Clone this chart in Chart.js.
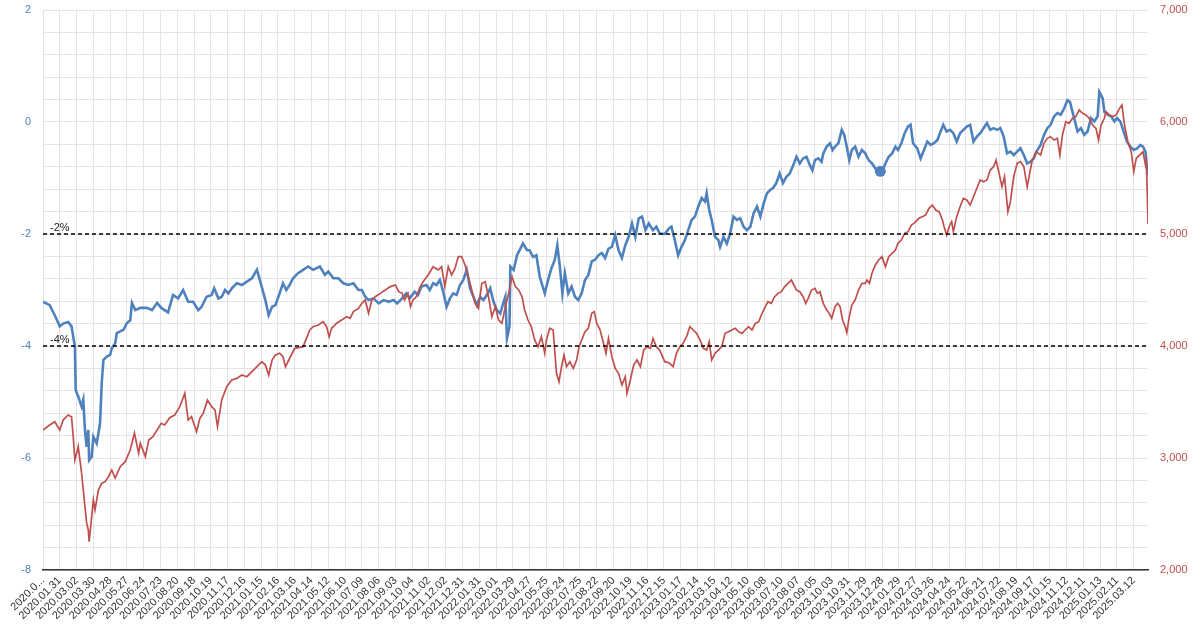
<!DOCTYPE html>
<html>
<head>
<meta charset="utf-8">
<script src="https://cdn.jsdelivr.net/npm/chart.js@4.4.1/dist/chart.umd.min.js"></script>
<style>
 html,body{margin:0;padding:0;background:#fff;}
</style>
</head>
<body>
<canvas id="chart" width="1200" height="629"></canvas>
<script>
// x = trading-day index (label every 20 sessions), y = value
const xTickLabels = ["2020.0...","2020.01.31","2020.03.02","2020.03.30","2020.04.28","2020.05.27","2020.06.24","2020.07.23","2020.08.20","2020.09.18","2020.10.19","2020.11.17","2020.12.16",
 "2021.01.15","2021.02.16","2021.03.16","2021.04.14","2021.05.12","2021.06.10","2021.07.09","2021.08.06","2021.09.03","2021.10.04","2021.11.02","2021.12.02","2021.12.31",
 "2022.01.31","2022.03.01","2022.03.29","2022.04.27","2022.05.25","2022.06.24","2022.07.25","2022.08.22","2022.09.20","2022.10.19","2022.11.16","2022.12.15",
 "2023.01.17","2023.02.14","2023.03.15","2023.04.12","2023.05.10","2023.06.08","2023.07.10","2023.08.07","2023.09.05","2023.10.03","2023.10.31","2023.11.29","2023.12.28",
 "2024.01.29","2024.02.27","2024.03.26","2024.04.24","2024.05.22","2024.06.21","2024.07.22","2024.08.19","2024.09.17","2024.10.15","2024.11.12","2024.12.11",
 "2025.01.13","2025.02.11","2025.03.12"];
const xStep = 20;
const lastIdx = 1317;

const leftTicks = [-8,-6,-4,-2,0,2];
const rightTicks = [2000,3000,4000,5000,6000,7000];

const guideLevels = [-2,-4];
const guideLabels = ["-2%","-4%"];

const markIdx = 998, markVal = -0.88;

const blueSeries = [[0,-3.21],[8,-3.27],[14,-3.45],[20,-3.65],[24,-3.6],[30,-3.57],[34,-3.65],[38,-4.01],[39,-4.79],[42,-4.9],[46,-5.08],[48,-4.96],[50,-5.5],[52,-5.8],[54,-5.5],[55,-6.04],[58,-5.98],[60,-5.62],[64,-5.74],[68,-5.38],[70,-4.66],[72,-4.25],[76,-4.19],[80,-4.16],[82,-4.04],[86,-3.95],[88,-3.77],[92,-3.74],[96,-3.71],[100,-3.59],[104,-3.54],[106,-3.23],[110,-3.36],[116,-3.32],[124,-3.32],[130,-3.36],[136,-3.23],[141,-3.32],[149,-3.4],
 [155,-3.09],[161,-3.15],[167,-3.0],[173,-3.21],[179,-3.21],[185,-3.36],[189,-3.3],[195,-3.12],[201,-3.09],[204,-2.97],[209,-3.15],[213,-3.12],[217,-3.0],[221,-3.06],[225,-2.97],[231,-2.88],[237,-2.91],[243,-2.85],[249,-2.79],[255,-2.64],[259,-2.85],[265,-3.18],[269,-3.45],[273,-3.3],[277,-3.27],[282,-3.06],[286,-2.88],[290,-3.0],[294,-2.91],
 [298,-2.79],[304,-2.7],[310,-2.64],[316,-2.58],[322,-2.64],[330,-2.58],[336,-2.73],[340,-2.67],[346,-2.79],[352,-2.79],[358,-2.88],[364,-2.91],[370,-2.88],[376,-3.0],[380,-3.0],[384,-3.12],[388,-3.18],[394,-3.15],[400,-3.24],[406,-3.18],[412,-3.21],[418,-3.18],[422,-3.24],[428,-3.15],[433,-3.06],[437,-3.15],[443,-3.03],
 [447,-3.09],[451,-2.94],[457,-2.91],[461,-3.0],[465,-2.88],[469,-2.91],[473,-2.82],[477,-3.03],[481,-3.3],[485,-3.15],[489,-3.06],[493,-3.09],[497,-2.91],[501,-2.82],[505,-2.64],[509,-2.97],[513,-3.12],[517,-3.27],[521,-3.12],[525,-3.18],[529,-3.09],[533,-2.97],[537,-3.21],[541,-3.36],[545,-3.42],[549,-3.21],[551,-3.12],[553,-3.86],[556,-3.65],[557,-2.58],[561,-2.64],[565,-2.38],[569,-2.26],[572,-2.17],[577,-2.29],[580,-2.29],[584,-2.41],[588,-2.38],[592,-2.76],
 [598,-3.06],[602,-2.82],[606,-2.61],[610,-2.46],[613,-2.2],[616,-2.58],[619,-3.06],[622,-2.7],[626,-3.06],[630,-2.94],[634,-3.12],[638,-3.18],[642,-3.06],[646,-2.82],[650,-2.73],[654,-2.49],[658,-2.46],[662,-2.38],[666,-2.34],[670,-2.43],[674,-2.26],[678,-2.23],[682,-2.02],[686,-2.29],[690,-2.43],[694,-2.2],[698,-2.05],[702,-1.81],[706,-2.05],[710,-1.72],[714,-1.69],[718,-1.93],[722,-1.81],[727,-1.93],[731,-1.87],[735,-1.99],[741,-2.0],[746,-1.9],
 [749,-1.87],[753,-2.11],[757,-2.38],[761,-2.23],[765,-2.11],[769,-1.93],[773,-1.75],[777,-1.69],[781,-1.51],[785,-1.36],[789,-1.42],[791,-1.27],[794,-1.57],[797,-1.75],[801,-2.05],[805,-2.11],[807,-2.23],[811,-2.05],[815,-2.17],[819,-1.99],[823,-1.69],[827,-1.75],[831,-1.72],[835,-1.87],[839,-1.93],[843,-1.87],[847,-1.63],[851,-1.51],[855,-1.69],[859,-1.45],[863,-1.27],[867,-1.21],[870,-1.18],[874,-1.09],[878,-0.92],[882,-1.09],[886,-0.98],[890,-0.92],[895,-0.74],
 [898,-0.62],[902,-0.74],[906,-0.65],[910,-0.62],[914,-0.77],[917,-0.86],[920,-0.68],[924,-0.65],[928,-0.71],[930,-0.56],[934,-0.44],[938,-0.38],[941,-0.5],[944,-0.44],[948,-0.38],[952,-0.14],[955,-0.23],[958,-0.44],[961,-0.68],[964,-0.5],[968,-0.44],[972,-0.62],[976,-0.5],[980,-0.56],[984,-0.68],[988,-0.74],[992,-0.83],[996,-0.89],[1000,-0.89],[1004,-0.74],[1008,-0.62],[1012,-0.56],[1016,-0.44],[1019,-0.5],[1023,-0.38],[1027,-0.2],[1031,-0.08],[1034,-0.05],[1037,-0.38],
 [1042,-0.47],[1046,-0.65],[1050,-0.5],[1054,-0.35],[1058,-0.41],[1062,-0.38],[1066,-0.32],[1069,-0.2],[1073,-0.05],[1077,-0.17],[1081,-0.14],[1085,-0.2],[1089,-0.35],[1093,-0.2],[1097,-0.14],[1101,-0.08],[1105,-0.05],[1109,-0.35],[1113,-0.26],[1117,-0.2],[1121,-0.11],[1125,-0.02],[1129,-0.14],[1133,-0.11],[1137,-0.14],[1141,-0.11],[1145,-0.26],[1149,-0.56],[1153,-0.53],[1157,-0.59],[1161,-0.53],[1165,-0.47],[1169,-0.59],[1173,-0.74],[1177,-0.71],[1181,-0.65],[1184,-0.53],
 [1189,-0.41],[1193,-0.23],[1197,-0.11],[1201,-0.05],[1205,0.1],[1209,0.16],[1213,0.13],[1217,0.24],[1221,0.39],[1224,0.36],[1227,0.18],[1230,0.01],[1233,-0.17],[1237,-0.11],[1241,-0.23],[1245,-0.17],[1249,0.07],[1253,0.01],[1257,0.1],[1259,0.54],[1263,0.42],[1265,0.18],[1269,0.13],[1273,0.1],[1277,0.01],[1280,0.07],[1284,0.01],[1288,-0.17],[1292,-0.35],[1296,-0.44],[1300,-0.5],[1304,-0.47],[1308,-0.41],[1311,-0.44],[1314,-0.53],[1316,-0.85],[1317,-0.95]];

const redSeries = [[0,3250],[8,3295],[14,3324],[20,3250],[24,3339],[30,3384],[34,3369],[36,3190],[38,2982],[42,3101],[46,2866],[48,2714],[50,2565],[52,2420],[54,2357],[55,2253],[58,2476],[60,2625],[62,2536],[66,2714],[70,2774],[74,2789],[78,2833],[82,2893],[86,2821],[92,2923],[98,2967],[104,3071],[109,3223],[114,3042],[116,3131],[122,3012],[126,3161],[131,3190],[136,3250],[141,3310],[145,3295],[151,3360],
 [157,3384],[163,3458],[169,3577],[173,3339],[177,3369],[183,3235],[187,3354],[191,3399],[196,3518],[201,3458],[205,3429],[208,3280],[213,3518],[219,3637],[225,3696],[231,3711],[237,3741],[243,3726],[249,3771],[255,3815],[261,3860],[265,3830],[269,3741],[273,3875],[277,3920],[282,3935],[286,3904],[289,3815],[293,3875],[300,3979],
 [310,3994],[314,4068],[318,4143],[322,4173],[328,4188],[334,4217],[338,4173],[341,4083],[344,4158],[350,4203],[356,4232],[362,4262],[366,4247],[370,4307],[376,4336],[380,4381],[384,4411],[388,4292],[392,4411],[396,4440],[402,4470],[408,4500],[414,4530],[420,4545],[424,4485],[428,4470],[431,4411],[435,4470],[438,4351],[441,4411],[445,4440],[449,4520],
 [453,4574],[459,4634],[465,4708],[471,4679],[475,4708],[479,4530],[483,4708],[487,4634],[491,4693],[495,4798],[499,4798],[503,4723],[507,4619],[511,4500],[515,4381],[519,4336],[523,4560],[527,4574],[531,4440],[535,4262],[539,4351],[543,4232],[547,4202],[551,4351],[555,4470],[559,4619],[563,4530],[567,4500],[571,4440],[574,4321],[578,4232],[582,4173],[586,4054],[590,3994],[594,4083],[598,3935],
 [600,4054],[604,4158],[608,4143],[612,3756],[615,3681],[618,3815],[621,3920],[624,3815],[628,3860],[632,3800],[636,3875],[639,3994],[642,4054],[646,4128],[650,4158],[654,4292],[657,4307],[660,4202],[664,4143],[668,4024],[671,3935],[674,4068],[678,3904],[682,3800],[686,3756],[690,3652],[694,3726],[696,3577],[700,3696],[704,3830],[708,3875],[712,3815],[716,3964],[720,3994],[724,3979],[727,4068],[731,3994],[735,3964],[741,3860],[746,3850],
 [751,3815],[755,3935],[759,3994],[763,4024],[767,4083],[771,4173],[775,4143],[779,4113],[783,4054],[787,3979],[791,3964],[794,4039],[797,3875],[801,3935],[805,3964],[809,3994],[813,4113],[817,4128],[821,4143],[825,4158],[829,4128],[833,4113],[837,4143],[841,4173],[845,4143],[849,4202],[853,4217],[857,4292],[861,4351],[864,4396],[868,4381],[872,4440],[876,4470],[880,4485],[884,4530],[888,4560],[892,4589],
 [898,4500],[902,4485],[906,4440],[909,4381],[912,4426],[916,4500],[920,4515],[923,4470],[926,4485],[930,4381],[934,4321],[937,4292],[940,4247],[944,4351],[947,4381],[950,4351],[953,4232],[956,4173],[958,4119],[961,4262],[964,4366],[968,4411],[972,4500],[976,4560],[980,4560],[982,4589],[985,4560],[988,4649],[992,4723],[996,4768],[1000,4798],[1004,4708],[1008,4798],[1012,4827],[1016,4857],[1019,4917],[1023,4946],[1027,5006],[1031,5021],[1035,5080],[1038,5095],
 [1044,5140],[1048,5155],[1052,5170],[1056,5229],[1060,5259],[1064,5214],[1068,5199],[1072,5125],[1074,5065],[1077,4991],[1080,5065],[1083,5110],[1085,5021],[1089,5155],[1093,5244],[1097,5318],[1101,5304],[1105,5259],[1109,5333],[1113,5408],[1117,5482],[1121,5467],[1125,5482],[1129,5571],[1133,5601],[1136,5661],[1139,5557],[1143,5423],[1146,5512],[1150,5199],[1153,5289],[1157,5512],[1161,5631],[1165,5646],[1169,5601],[1173,5423],[1176,5542],[1179,5661],[1184,5735],
 [1189,5705],[1193,5810],[1197,5854],[1201,5869],[1205,5839],[1209,5854],[1212,5705],[1215,5884],[1219,6003],[1223,5988],[1227,6033],[1231,6048],[1235,6107],[1239,6078],[1243,6063],[1247,6033],[1251,5973],[1255,5943],[1258,5839],[1261,5973],[1265,6033],[1267,6092],[1271,6063],[1275,6048],[1279,6063],[1283,6122],[1286,6152],[1289,5973],[1293,5824],[1297,5735],[1300,5557],[1303,5676],[1307,5705],[1311,5735],[1314,5616],[1315,5650],[1316,5400],[1317,5090]];

const BLUE = "#4F81BD";
const RED = "#C0504D";
const GRID = "#e4e4e4";

const toPts = arr => arr.map(([x, y]) => ({x, y}));

// -2% / -4% captions above the dashed lines
const guideText = {
 id: "guideText",
 afterDatasetsDraw(chart){
  const {ctx, chartArea, scales} = chart;
  ctx.save();
  ctx.font = "11px Arial";
  ctx.fillStyle = "#222";
  ctx.textBaseline = "bottom";
  guideLevels.forEach((lv, i) => {
   ctx.fillText(guideLabels[i], chartArea.left + 7, scales.y.getPixelForValue(lv) - 1);
  });
  ctx.restore();
 }
};

const guideSets = guideLevels.map(lv => ({
 data: [{x: 0, y: lv}, {x: lastIdx, y: lv}],
 yAxisID: "y", borderColor: "#000", borderWidth: 1.4, borderDash: [4, 3],
 pointRadius: 0, order: 1
}));

// fixed axis boxes so the plot area sits where the original has it
const fitY = w => s => { s.width = w; s.paddingTop = 0; s.paddingBottom = 0; };

new Chart(document.getElementById("chart"), {
 type: "line",
 data: {
  datasets: [
   {type: "scatter", data: [{x: markIdx, y: markVal}], yAxisID: "y", pointRadius: 5.5, pointBackgroundColor: BLUE, pointBorderWidth: 0, order: 0},
   ...guideSets,
   {data: toPts(redSeries), yAxisID: "y2", borderColor: RED, borderWidth: 1.7, pointRadius: 0, order: 2},
   {data: toPts(blueSeries), yAxisID: "y", borderColor: BLUE, borderWidth: 2.6, pointRadius: 0, order: 3}
  ]
 },
 options: {
  responsive: false, animation: false, devicePixelRatio: 1,
  layout: {padding: {top: 10, left: 0, right: 0, bottom: 0}},
  plugins: {legend: {display: false}, tooltip: {enabled: false}},
  scales: {
   x: {
    type: "linear", min: 0, max: lastIdx,
    afterBuildTicks: s => { s.ticks = xTickLabels.map((_, i) => ({value: i * xStep})); },
    afterFit: s => { s.height = 59; },
    ticks: {minRotation: 45, maxRotation: 45, autoSkip: false, padding: 4, color: "#333",
     font: {family: "Arial", size: 11},
     callback: v => xTickLabels[Math.round(v / xStep)]},
    grid: {color: GRID, drawTicks: false},
    border: {display: true, color: "#333", width: 1.5}
   },
   y: {
    position: "left", min: -8, max: 2,
    afterBuildTicks: s => { const t = []; for (let k = 0; k <= 25; k++) t.push({value: -8 + k * 0.4}); s.ticks = t; },
    afterFit: fitY(43),
    ticks: {padding: 12, color: BLUE, font: {family: "Arial", size: 11},
     callback: v => { const r = Math.round(v); return (Math.abs(v - r) < 1e-6 && leftTicks.includes(r)) ? String(r) : ""; }},
    grid: {color: GRID, drawTicks: false},
    border: {display: false}
   },
   y2: {
    position: "right", min: 2000, max: 7000,
    afterBuildTicks: s => { s.ticks = rightTicks.map(v => ({value: v})); },
    afterFit: fitY(52),
    ticks: {padding: 12, color: RED, font: {family: "Arial", size: 11},
     callback: v => v.toLocaleString("en-US")},
    grid: {drawOnChartArea: false, drawTicks: false},
    border: {display: false}
   }
  }
 },
 plugins: [guideText]
});
</script>
</body>
</html>
